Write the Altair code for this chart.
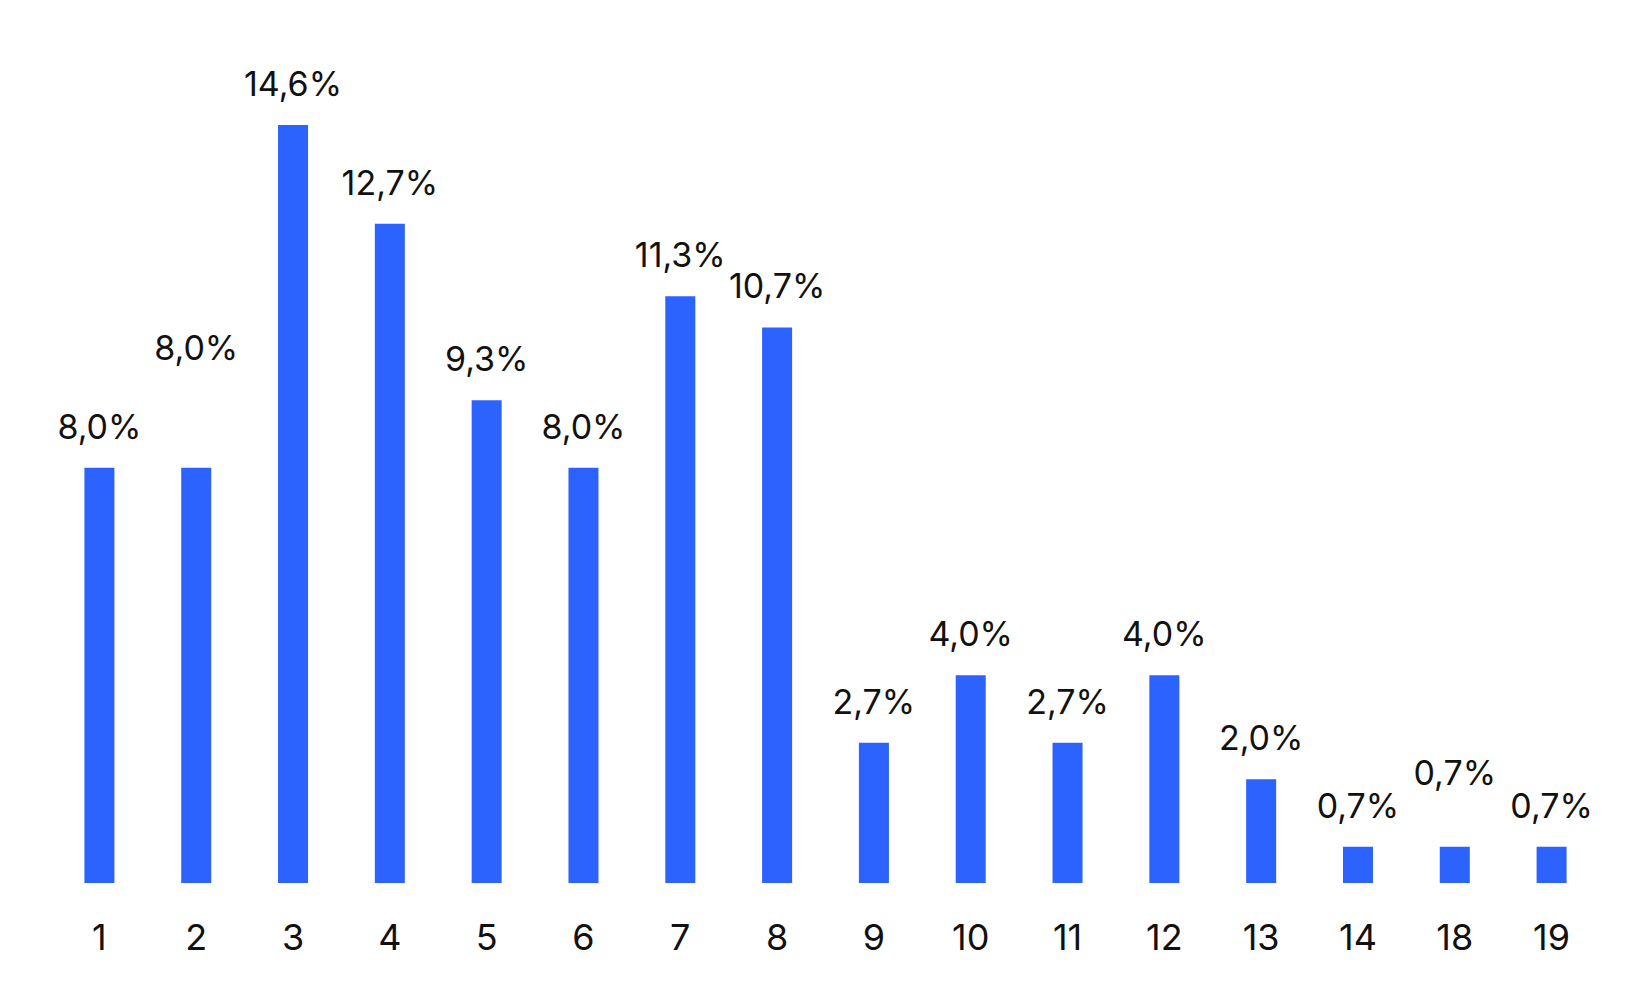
import pandas as pd
import altair as alt

# data
categories = ["1", "2", "3", "4", "5", "6", "7", "8", "9", "10", "11", "12", "13", "14", "18", "19"]
shares = [8.0, 8.0, 14.6, 12.7, 9.3, 8.0, 11.3, 10.7, 2.7, 4.0, 2.7, 4.0, 2.0, 0.7, 0.7, 0.7]

source = pd.DataFrame({"cat": categories, "share": shares})
source["label"] = [f"{v:.1f}".replace(".", ",") + "%" for v in shares]

BLUE = "#2C63FF"
FONT = "Inter"

# some labels sit higher than the rest in the original (extra lift, px)
label_lift = {"2": 79, "18": 33}
base_dy = -29

x_enc = alt.X("cat:N", sort=categories,
              scale=alt.Scale(paddingInner=0.69, paddingOuter=0.345),
              axis=alt.Axis(title=None, labelAngle=0, domain=False, ticks=False, grid=False,
                            labelFont=FONT, labelFontSize=36, labelColor="#111111",
                            labelBaseline="alphabetic", labelPadding=66))
y_enc = alt.Y("share:Q", scale=alt.Scale(domain=[0, 14.6], nice=False), axis=None)

base = alt.Chart(source).encode(x=x_enc, y=y_enc)

bars = base.mark_bar(color=BLUE)

text_style = dict(align="center", baseline="alphabetic", font=FONT, fontSize=34, color="#111111")

lifted = list(label_lift.keys())
labels = base.mark_text(dy=base_dy, **text_style).encode(text="label:N").transform_filter(
    ~alt.FieldOneOfPredicate(field="cat", oneOf=lifted)
)
layers = [bars, labels]
for cat, lift in label_lift.items():
    layers.append(
        base.mark_text(dy=base_dy - lift, **text_style)
        .encode(text="label:N")
        .transform_filter(alt.datum.cat == cat)
    )

chart = alt.layer(*layers).properties(
    width=1549,
    height=758,
    autosize=alt.AutoSizeParams(type="none"),
    padding={"left": 43, "top": 117, "right": 30, "bottom": 85},
).configure_view(stroke=None)

chart.save("out.html", embed_options={"renderer": "svg", "actions": False})
